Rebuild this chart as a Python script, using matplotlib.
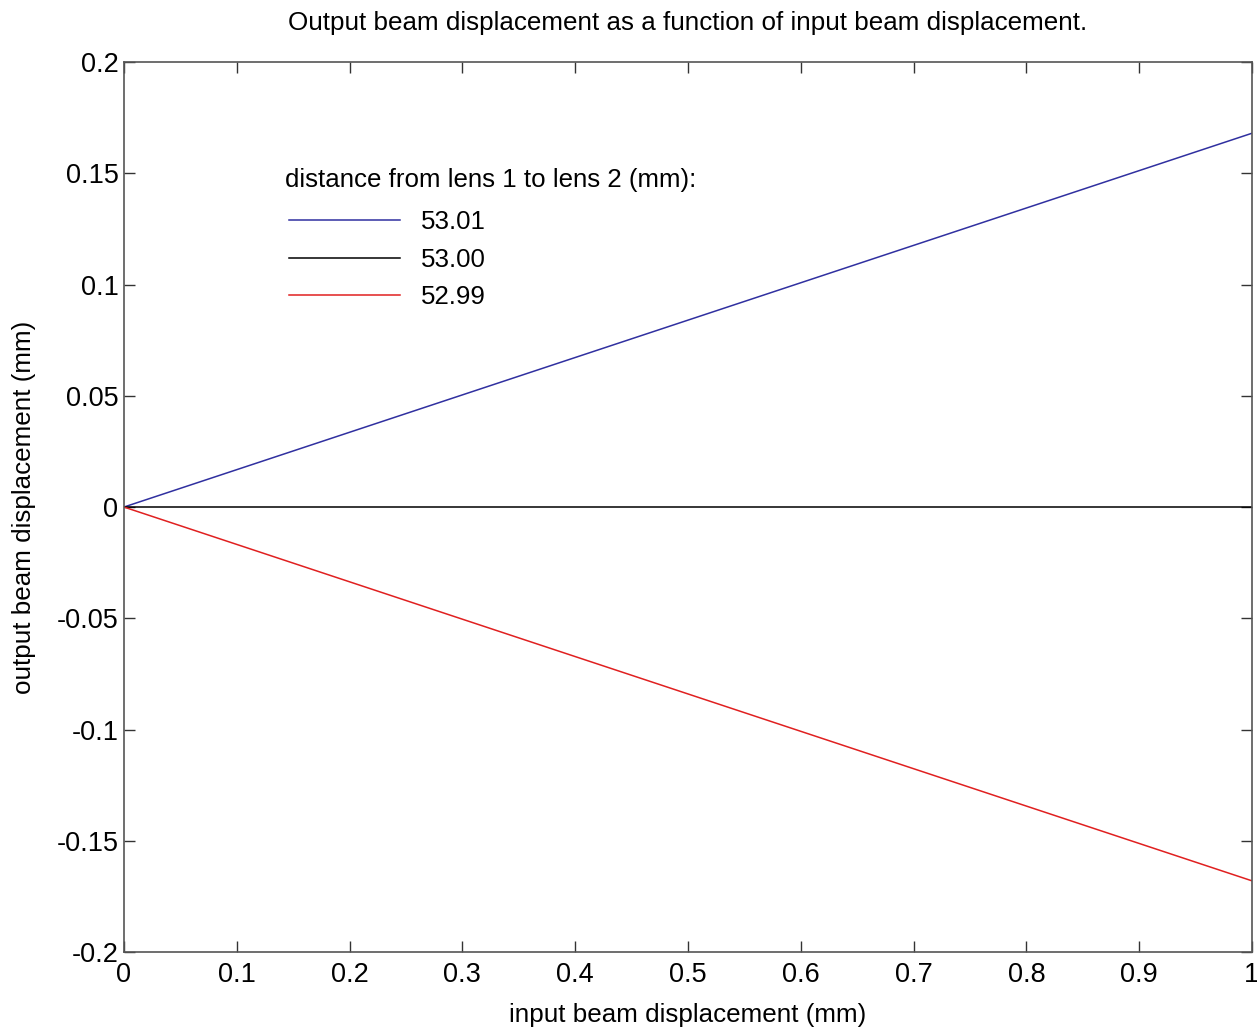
import matplotlib
matplotlib.use('Agg')
import matplotlib.pyplot as plt
import numpy as np

# values
x_in = [0.0, 0.1, 0.2, 0.3, 0.4, 0.5, 0.6, 0.7, 0.8, 0.9, 1.0]
y_5301 = [0.0, 0.0168, 0.0336, 0.0504, 0.0672, 0.0840, 0.1008, 0.1176, 0.1344, 0.1512, 0.1680]
y_5300 = [0.0, 0.0, 0.0, 0.0, 0.0, 0.0, 0.0, 0.0, 0.0, 0.0, 0.0]
y_5299 = [0.0, -0.0168, -0.0336, -0.0504, -0.0672, -0.0840, -0.1008, -0.1176, -0.1344, -0.1512, -0.1680]
series_labels = ['53.01', '53.00', '52.99']
series_colors = ['#3030a0', 'black', '#e02020']
xticks = [0, 0.1, 0.2, 0.3, 0.4, 0.5, 0.6, 0.7, 0.8, 0.9, 1]
yticks = [-0.2, -0.15, -0.1, -0.05, 0, 0.05, 0.1, 0.15, 0.2]

plt.rcParams['font.family'] = ['Liberation Sans', 'DejaVu Sans']

fig = plt.figure(figsize=(12.57, 10.29), dpi=100)
ax = fig.add_axes([0.0986, 0.0748, 0.8974, 0.8649])

for ys, lab, col in zip([y_5301, y_5300, y_5299], series_labels, series_colors):
    ax.plot(x_in, ys, color=col, linewidth=1.1, label=lab)

ax.set_xlim(0, 1)
ax.set_ylim(-0.2, 0.2)
ax.set_xticks(xticks)
ax.set_xticklabels(['0', '0.1', '0.2', '0.3', '0.4', '0.5', '0.6', '0.7', '0.8', '0.9', '1'])
ax.set_yticks(yticks)
ax.set_yticklabels(['-0.2', '-0.15', '-0.1', '-0.05', '0', '0.05', '0.1', '0.15', '0.2'])
ax.tick_params(direction='in', top=True, right=True, length=8, width=1,
               labelsize=19.5, colors='#333333', labelcolor='black')
ax.tick_params(axis='x', pad=7)
ax.tick_params(axis='y', pad=4)
for sp in ax.spines.values():
    sp.set_color('#555555')
    sp.set_linewidth(1.2)

ax.set_title('Output beam displacement as a function of input beam displacement.',
             fontsize=18.7, pad=23)
ax.set_xlabel('input beam displacement (mm)', fontsize=18.7, labelpad=11)
ax.set_ylabel('output beam displacement (mm)', fontsize=18.7, labelpad=15)

# legend title drawn as its own text, like the MATLAB original
ax.text(0.1427, 0.8674, 'distance from lens 1 to lens 2 (mm):', transform=ax.transAxes,
        fontsize=18.6, ha='left', va='center')
leg = ax.legend(loc='upper left', bbox_to_anchor=(0.1463, 0.8335), frameon=False,
                fontsize=18.6, handlelength=4.3, handletextpad=0.82,
                labelspacing=0.52, borderpad=0, borderaxespad=0)

fig.savefig('out.png', dpi=100)
